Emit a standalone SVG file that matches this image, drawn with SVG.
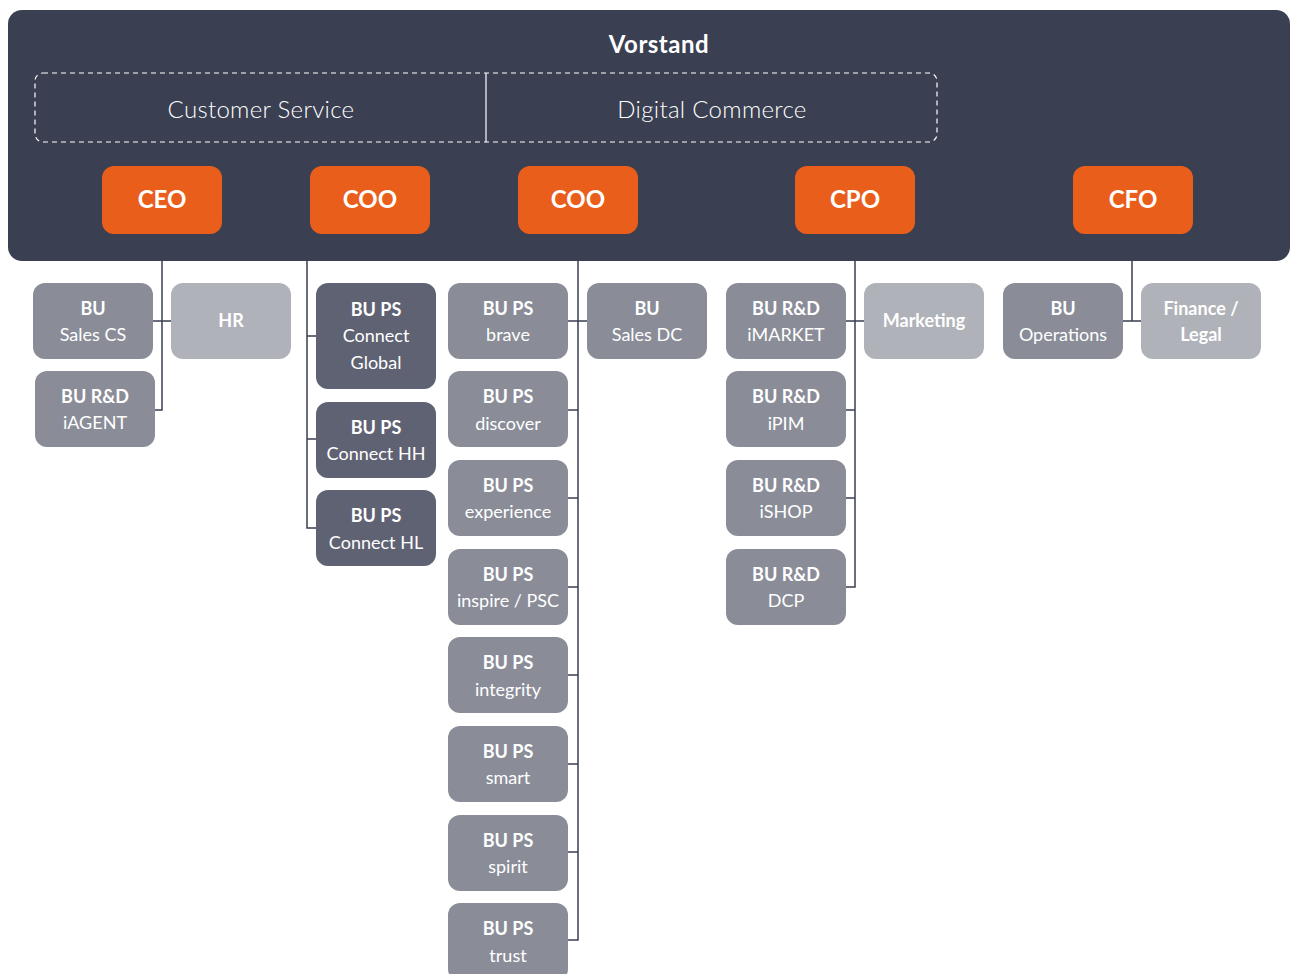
<svg xmlns="http://www.w3.org/2000/svg" width="1292" height="974" viewBox="0 0 1292 974">
<style>
.t{font-family:Lato,"Open Sans","Liberation Sans",sans-serif;fill:#fff;text-anchor:middle}
.b{font-weight:700}
.s{font-size:18px}
.o{fill:#ea5e1c}
.m{fill:#8a8d98}
.l{fill:#b0b2b9}
.d{fill:#5f6273}
.ln{stroke:#3a3f52;stroke-width:1.5;fill:none}
</style>
<rect width="1292" height="974" fill="#fff"/>
<g id="vorstand">
<rect x="8" y="10" width="1282" height="251" rx="14" fill="#3a3f52"/>
<text class="t b" x="659" y="53" font-size="24" letter-spacing="0.5">Vorstand</text>
<rect x="35" y="73" width="902" height="69" rx="8" fill="none" stroke="#fff" stroke-width="1.2" stroke-dasharray="5,4"/>
<line x1="486" y1="73" x2="486" y2="142" stroke="#fff" stroke-width="1.2"/>
<text class="t" x="261" y="118" font-size="24" font-weight="300" letter-spacing="0.3">Customer Service</text>
<text class="t" x="712" y="118" font-size="24" font-weight="300" letter-spacing="0.3">Digital Commerce</text>
</g>
<g id="connectors" class="ln">
<path d="M162 261V410H155M153 321H171"/>
<path d="M307 261V528H316M307 336H316M307 439H316"/>
<path d="M578 261V940H568M568 321H587M568 410H578M568 498H578M568 587H578M568 675H578M568 764H578M568 852H578"/>
<path d="M855 261V587H846M846 321H864M846 410H855M846 498H855"/>
<path d="M1132 261V321M1123 321H1141"/>
</g>
<g id="ceo"><rect class="o" x="102" y="166" width="120" height="68" rx="12"/><text class="t b" x="162" y="208" font-size="24">CEO</text></g>
<g id="coo1"><rect class="o" x="310" y="166" width="120" height="68" rx="12"/><text class="t b" x="370" y="208" font-size="24">COO</text></g>
<g id="coo2"><rect class="o" x="518" y="166" width="120" height="68" rx="12"/><text class="t b" x="578" y="208" font-size="24">COO</text></g>
<g id="cpo"><rect class="o" x="795" y="166" width="120" height="68" rx="12"/><text class="t b" x="855" y="208" font-size="24">CPO</text></g>
<g id="cfo"><rect class="o" x="1073" y="166" width="120" height="68" rx="12"/><text class="t b" x="1133" y="208" font-size="24">CFO</text></g>

<g id="bu-sales-cs"><rect class="m" x="33" y="283" width="120" height="76" rx="12"/><text class="t s b" x="93" y="315">BU</text><text class="t s" x="93" y="341">Sales CS</text></g>
<g id="hr"><rect class="l" x="171" y="283" width="120" height="76" rx="12"/><text class="t s b" x="231" y="327">HR</text></g>
<g id="bu-rd-iagent"><rect class="m" x="35" y="371" width="120" height="76" rx="12"/><text class="t s b" x="95" y="403">BU R&amp;D</text><text class="t s" x="95" y="429">iAGENT</text></g>

<g id="bu-ps-connect-global"><rect class="d" x="316" y="283" width="120" height="106" rx="12"/><text class="t s b" x="376" y="316">BU PS</text><text class="t s" x="376" y="342">Connect</text><text class="t s" x="376" y="369">Global</text></g>
<g id="bu-ps-connect-hh"><rect class="d" x="316" y="402" width="120" height="76" rx="12"/><text class="t s b" x="376" y="434">BU PS</text><text class="t s" x="376" y="460">Connect HH</text></g>
<g id="bu-ps-connect-hl"><rect class="d" x="316" y="490" width="120" height="76" rx="12"/><text class="t s b" x="376" y="522">BU PS</text><text class="t s" x="376" y="549">Connect HL</text></g>

<g id="bu-ps-brave"><rect class="m" x="448" y="283" width="120" height="76" rx="12"/><text class="t s b" x="508" y="315">BU PS</text><text class="t s" x="508" y="341">brave</text></g>
<g id="bu-ps-discover"><rect class="m" x="448" y="371" width="120" height="76" rx="12"/><text class="t s b" x="508" y="403">BU PS</text><text class="t s" x="508" y="430">discover</text></g>
<g id="bu-ps-experience"><rect class="m" x="448" y="460" width="120" height="76" rx="12"/><text class="t s b" x="508" y="492">BU PS</text><text class="t s" x="508" y="518">experience</text></g>
<g id="bu-ps-inspire"><rect class="m" x="448" y="549" width="120" height="76" rx="12"/><text class="t s b" x="508" y="581">BU PS</text><text class="t s" x="508" y="607">inspire / PSC</text></g>
<g id="bu-ps-integrity"><rect class="m" x="448" y="637" width="120" height="76" rx="12"/><text class="t s b" x="508" y="669">BU PS</text><text class="t s" x="508" y="696">integrity</text></g>
<g id="bu-ps-smart"><rect class="m" x="448" y="726" width="120" height="76" rx="12"/><text class="t s b" x="508" y="758">BU PS</text><text class="t s" x="508" y="784">smart</text></g>
<g id="bu-ps-spirit"><rect class="m" x="448" y="815" width="120" height="76" rx="12"/><text class="t s b" x="508" y="847">BU PS</text><text class="t s" x="508" y="873">spirit</text></g>
<g id="bu-ps-trust"><rect class="m" x="448" y="903" width="120" height="78" rx="12"/><text class="t s b" x="508" y="935">BU PS</text><text class="t s" x="508" y="962">trust</text></g>
<g id="bu-sales-dc"><rect class="m" x="587" y="283" width="120" height="76" rx="12"/><text class="t s b" x="647" y="315">BU</text><text class="t s" x="647" y="341">Sales DC</text></g>

<g id="bu-rd-imarket"><rect class="m" x="726" y="283" width="120" height="76" rx="12"/><text class="t s b" x="786" y="315">BU R&amp;D</text><text class="t s" x="786" y="341">iMARKET</text></g>
<g id="bu-rd-ipim"><rect class="m" x="726" y="371" width="120" height="76" rx="12"/><text class="t s b" x="786" y="403">BU R&amp;D</text><text class="t s" x="786" y="430">iPIM</text></g>
<g id="bu-rd-ishop"><rect class="m" x="726" y="460" width="120" height="76" rx="12"/><text class="t s b" x="786" y="492">BU R&amp;D</text><text class="t s" x="786" y="518">iSHOP</text></g>
<g id="bu-rd-dcp"><rect class="m" x="726" y="549" width="120" height="76" rx="12"/><text class="t s b" x="786" y="581">BU R&amp;D</text><text class="t s" x="786" y="607">DCP</text></g>
<g id="marketing"><rect class="l" x="864" y="283" width="120" height="76" rx="12"/><text class="t s b" x="924" y="327">Marketing</text></g>

<g id="bu-operations"><rect class="m" x="1003" y="283" width="120" height="76" rx="12"/><text class="t s b" x="1063" y="315">BU</text><text class="t s" x="1063" y="341">Operations</text></g>
<g id="finance-legal"><rect class="l" x="1141" y="283" width="120" height="76" rx="12"/><text class="t s b" x="1201" y="315">Finance /</text><text class="t s b" x="1201" y="341">Legal</text></g>
</svg>
